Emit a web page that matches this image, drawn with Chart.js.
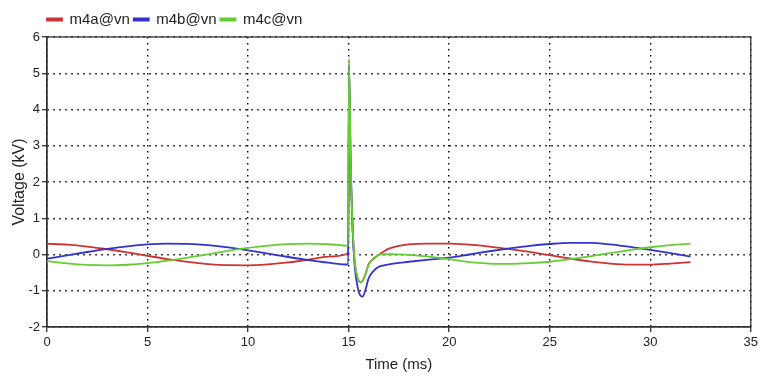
<!DOCTYPE html>
<html>
<head>
<meta charset="utf-8">
<script src="https://cdn.jsdelivr.net/npm/chart.js@4.4.1/dist/chart.umd.min.js"></script>
<style>
  html, body { margin: 0; padding: 0; background: #fff; }
  #wrap { width: 761px; height: 378px; }
</style>
</head>
<body>
<div id="wrap"><canvas id="chart" width="761" height="378"></canvas></div>
<script>
// values: time in ms, voltage in kV
const timeMs = [0, 1, 2, 3, 4, 5, 6, 7, 8, 9, 10, 11, 12, 13, 14,
  14.98, 15.02, 15.1, 15.2, 15.3, 15.4, 15.5, 15.6, 15.7, 15.85, 16, 16.25, 16.5, 16.75, 17,
  18, 19, 20, 21, 22, 23, 24, 25, 26, 27, 28, 29, 30, 31, 32];

const m4a = [0.298, 0.271, 0.219, 0.145, 0.056, -0.038, -0.128, -0.205, -0.263, -0.295, -0.298, -0.271, -0.219, -0.145, -0.056,
  0.035, 5.1, 2.5, 0.7, -0.2, -0.55, -0.72, -0.77, -0.72, -0.52, -0.26, -0.12, -0.01, 0.08, 0.16,
  0.28, 0.30, 0.30, 0.27, 0.22, 0.15, 0.07, -0.02, -0.11, -0.19, -0.25, -0.28, -0.28, -0.25, -0.21];

const m4b = [-0.116, -0.025, 0.069, 0.155, 0.227, 0.277, 0.299, 0.292, 0.256, 0.196, 0.116, 0.025, -0.069, -0.155, -0.227,
  -0.276, 5.25, 2.55, 0.7, -0.3, -0.75, -1.02, -1.14, -1.16, -0.95, -0.65, -0.45, -0.34, -0.3, -0.27,
  -0.2, -0.14, -0.09, 0.0, 0.09, 0.17, 0.24, 0.29, 0.32, 0.32, 0.28, 0.21, 0.13, 0.04, -0.06];

const m4c = [-0.181, -0.246, -0.287, -0.3, -0.283, -0.239, -0.171, -0.087, 0.006, 0.099, 0.181, 0.246, 0.287, 0.3, 0.283,
  0.24, 5.4, 2.6, 0.75, -0.18, -0.55, -0.72, -0.77, -0.72, -0.52, -0.28, -0.1, -0.01, 0.01, 0.01,
  -0.01, -0.06, -0.13, -0.21, -0.25, -0.26, -0.24, -0.2, -0.13, -0.05, 0.04, 0.12, 0.2, 0.26, 0.3];

const seriesLabels = ["m4a@vn", "m4b@vn", "m4c@vn"];
const seriesColors = ["#cc3333", "#3333cc", "#66cc33"];

const xRange = [0, 35];
const yRange = [-2, 6];
const xStep = 5;
const yStep = 1;

const FONT = "'Liberation Sans', Arial, sans-serif";
const INK = "#222";

// closes the plot box (top + right) and moves the legend over the plot
const framePlugin = {
  id: "frame",
  afterLayout(chart) {
    chart.legend.left = chart.chartArea.left - 4;
  },
  beforeDatasetsDraw(chart) {
    const { ctx, chartArea: a } = chart;
    ctx.save();
    ctx.strokeStyle = "#333";
    ctx.lineWidth = 1.3;
    ctx.strokeRect(a.left, a.top, a.right - a.left, a.bottom - a.top);
    ctx.restore();
  }
};

const toPoints = (ys) => timeMs.map((t, i) => ({ x: t, y: ys[i] }));
const series = [m4a, m4b, m4c];

new Chart(document.getElementById("chart"), {
  type: "line",
  data: {
    datasets: series.map((ys, i) => ({
      label: seriesLabels[i],
      data: toPoints(ys),
      borderColor: seriesColors[i],
      backgroundColor: seriesColors[i],
      borderWidth: 1.8,
      pointRadius: 0,
      cubicInterpolationMode: "monotone",
      order: 3 - i // green drawn on top
    }))
  },
  options: {
    responsive: false,
    animation: false,
    layout: { padding: { top: 2, right: 9, left: 0, bottom: 0 } },
    plugins: {
      legend: {
        position: "top",
        align: "start",
        labels: {
          boxWidth: 15,
          boxHeight: 2,
          padding: 4,
          color: INK,
          font: { family: FONT, size: 15 },
          sort: (a, b) => a.datasetIndex - b.datasetIndex
        }
      },
      tooltip: { enabled: false }
    },
    scales: {
      x: {
        type: "linear",
        min: xRange[0],
        max: xRange[1],
        afterFit(s) { s.height = 51; },
        ticks: { stepSize: xStep, color: INK, padding: 3, font: { family: FONT, size: 13 } },
        grid: { color: "#000", lineWidth: 1.4, tickLength: 5, tickColor: "#333", tickWidth: 1.3 },
        border: { color: "#333", width: 1.3, dash: [1.5, 4.5] },
        title: { display: true, text: "Time (ms)", color: INK, padding: { top: 4, bottom: 4 }, font: { family: FONT, size: 15 } }
      },
      y: {
        min: yRange[0],
        max: yRange[1],
        afterFit(s) { s.width = 47; s.paddingTop = 37; },
        ticks: { stepSize: yStep, color: INK, padding: 2, font: { family: FONT, size: 13 } },
        grid: { color: "#000", lineWidth: 1.4, tickLength: 5, tickColor: "#333", tickWidth: 1.3 },
        border: { color: "#333", width: 1.3, dash: [1.5, 4.5] },
        title: { display: true, text: "Voltage (kV)", color: INK, padding: { top: 10, bottom: 0 }, font: { family: FONT, size: 16 } }
      }
    }
  },
  plugins: [framePlugin]
});
</script>
</body>
</html>
